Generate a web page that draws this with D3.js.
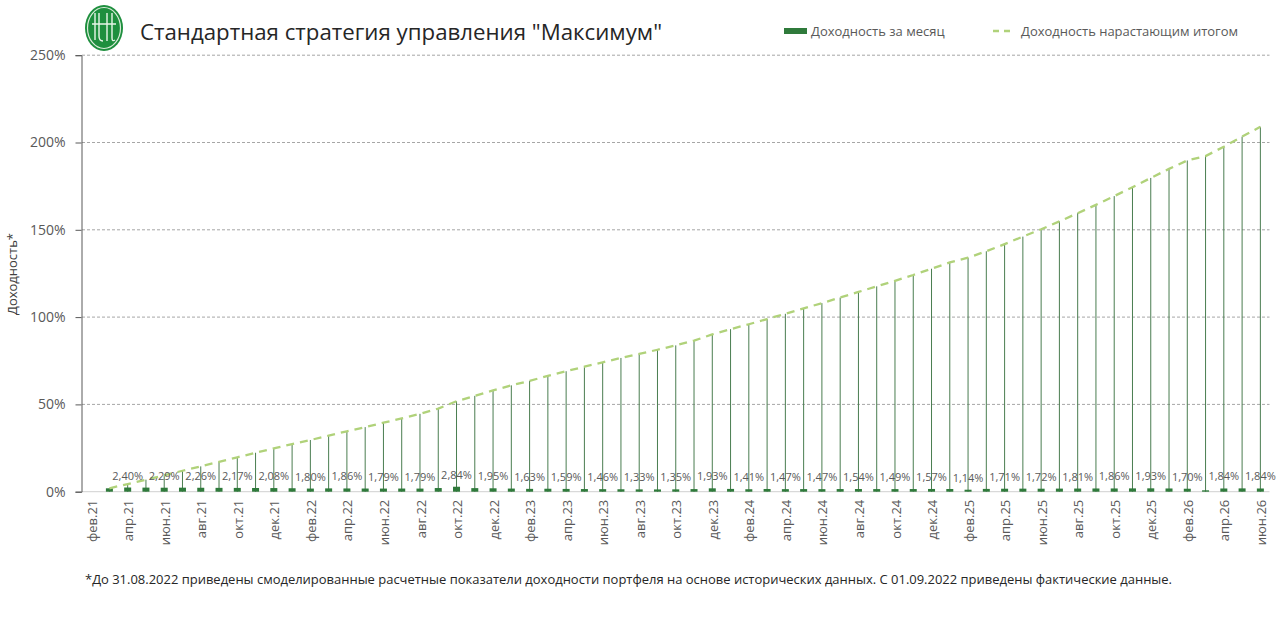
<!DOCTYPE html>
<html>
<head>
<meta charset="utf-8">
<script src="https://cdn.jsdelivr.net/npm/d3@7"></script>
<style>
  body { margin: 0; background: #fff; }
  svg { font-family: "Open Sans", "Noto Sans", sans-serif; }
</style>
</head>
<body>
<div id="chart"></div>
<script>
// months on the category axis
var months = [
  "фев.21","мар.21","апр.21","май.21","июн.21","июл.21","авг.21","сен.21","окт.21","ноя.21","дек.21",
  "янв.22","фев.22","мар.22","апр.22","май.22","июн.22","июл.22","авг.22","сен.22","окт.22","ноя.22","дек.22",
  "янв.23","фев.23","мар.23","апр.23","май.23","июн.23","июл.23","авг.23","сен.23","окт.23","ноя.23","дек.23",
  "янв.24","фев.24","мар.24","апр.24","май.24","июн.24","июл.24","авг.24","сен.24","окт.24","ноя.24","дек.24",
  "янв.25","фев.25","мар.25","апр.25","май.25","июн.25","июл.25","авг.25","сен.25","окт.25","ноя.25","дек.25",
  "янв.26","фев.26","мар.26","апр.26","май.26","июн.26"
];

// monthly return, %
var monthly = [
  null, 1.95, 2.40, 2.35, 2.29, 2.31, 2.26, 2.20, 2.17, 2.12, 2.08,
  1.98, 1.80, 1.90, 1.86, 1.82, 1.79, 1.81, 1.79, 2.10, 2.84, 2.05, 1.95,
  1.80, 1.63, 1.70, 1.59, 1.52, 1.46, 1.40, 1.33, 1.30, 1.35, 1.50, 1.93,
  1.60, 1.41, 1.55, 1.47, 1.50, 1.47, 1.52, 1.54, 1.50, 1.49, 1.52, 1.57,
  1.55, 1.14, 1.60, 1.71, 1.75, 1.72, 1.78, 1.81, 1.85, 1.86, 1.90, 1.93,
  1.85, 1.70, 0.80, 1.84, 1.90, 1.84
];

// cumulative return, %
var cumulative = [
  null, 1.95, 4.4, 6.9, 9.4, 12.0, 14.5, 17.1, 19.7, 22.3, 24.8,
  27.3, 29.6, 32.1, 34.6, 37.0, 39.5, 42.0, 44.6, 47.6, 51.8, 54.9, 58.0,
  60.9, 63.5, 66.3, 69.0, 71.6, 74.1, 76.6, 78.9, 81.3, 83.8, 86.5, 90.1,
  93.1, 95.9, 98.9, 101.9, 105.0, 108.0, 111.2, 114.4, 117.6, 120.8, 124.1, 127.7,
  131.3, 134.0, 137.7, 141.8, 146.1, 150.3, 154.8, 159.5, 164.3, 169.3, 174.4, 179.7,
  184.9, 189.7, 192.2, 197.6, 203.4, 209.0
];

var yTicks = [0, 50, 100, 150, 200, 250];

var width = 1280,
    height = 632;

var plotL = 82, plotR = 1269.5, plotT = 55.2, plotB = 491.7;

var svg = d3.select("#chart").append("svg")
    .attr("width", width)
    .attr("height", height);

var x = d3.scaleBand()
    .domain(months)
    .range([plotL, plotR])
    .padding(0);

var y = d3.scaleLinear()
    .domain([0, 250])
    .range([plotB, plotT]);

function cx(m) { return x(m) + x.bandwidth() / 2; }
function pct(v) { return v.toFixed(2).replace(".", ",") + "%"; }

// grid
svg.append("g").selectAll("line")
  .data(yTicks.filter(function(d) { return d > 0; }))
  .join("line")
    .attr("x1", plotL).attr("x2", plotR)
    .attr("y1", function(d) { return y(d); })
    .attr("y2", function(d) { return y(d); })
    .attr("stroke", "#a6a6a6")
    .attr("stroke-width", 1)
    .attr("stroke-dasharray", "3,2");

// x axis line
svg.append("line")
  .attr("x1", plotL).attr("x2", plotR)
  .attr("y1", y(0)).attr("y2", y(0))
  .attr("stroke", "#d0d0d0");

// y axis
var yAxis = svg.append("g")
  .attr("transform", "translate(" + (plotL - 0.5) + ",0)")
  .call(d3.axisLeft(y).tickValues(yTicks).tickSize(6).tickPadding(10)
    .tickFormat(function(d) { return d + "%"; }));
yAxis.select(".domain").attr("stroke", "#595959");
yAxis.selectAll(".tick line").attr("stroke", "#595959");
yAxis.selectAll("text")
  .attr("fill", "#595959")
  .style("font-size", "14px")
  .style("font-family", "'Open Sans', sans-serif");

svg.append("text")
  .attr("transform", "translate(17,274) rotate(-90)")
  .attr("text-anchor", "middle")
  .attr("fill", "#404040")
  .style("font-size", "13px")
  .text("Доходность*");

// x labels every other month
var xLab = months.filter(function(d, i) { return i % 2 === 0; });
svg.append("g").selectAll("text")
  .data(xLab)
  .join("text")
    .attr("transform", function(d) { return "translate(" + (cx(d) + 1) + "," + (y(0) + 8) + ") rotate(-90)"; })
    .attr("text-anchor", "end")
    .attr("dy", "0.35em")
    .attr("fill", "#595959")
    .style("font-size", "13px")
    .text(function(d) { return d; });

var cumData = months.map(function(m, i) { return {m: m, v: cumulative[i], r: monthly[i], i: i}; });

// drop lines from cumulative line
svg.append("g").selectAll("line")
  .data(cumData.filter(function(d) { return d.v != null; }))
  .join("line")
    .attr("x1", function(d) { return cx(d.m); })
    .attr("x2", function(d) { return cx(d.m); })
    .attr("y1", function(d) { return y(d.v); })
    .attr("y2", y(0))
    .attr("stroke", "#4a7d50")
    .attr("stroke-width", 1);

// monthly bars
var bw = 7;
svg.append("g").selectAll("rect")
  .data(cumData.filter(function(d) { return d.r != null; }))
  .join("rect")
    .attr("x", function(d) { return cx(d.m) - bw / 2; })
    .attr("y", function(d) { return y(d.r); })
    .attr("width", bw)
    .attr("height", function(d) { return y(0) - y(d.r); })
    .attr("fill", "#2f7a3b");

// cumulative dashed line
var line = d3.line()
    .defined(function(d) { return d.v != null; })
    .x(function(d) { return cx(d.m); })
    .y(function(d) { return y(d.v); });

svg.append("path")
  .attr("d", line(cumData))
  .attr("fill", "none")
  .attr("stroke", "#b0d27a")
  .attr("stroke-width", 2.3)
  .attr("stroke-dasharray", "8,6");

// value labels
svg.append("g").selectAll("text")
  .data(cumData.filter(function(d) { return d.r != null && d.i % 2 === 0; }))
  .join("text")
    .attr("x", function(d) { return cx(d.m); })
    .attr("y", function(d) { return y(d.r) - 8; })
    .attr("text-anchor", "middle")
    .attr("fill", "#595959")
    .style("font-size", "11px")
    .text(function(d) { return pct(d.r); });

// logo
var logo = svg.append("g").attr("transform", "translate(104,28)");
logo.append("ellipse").attr("rx", 19).attr("ry", 23).attr("fill", "#1e8f3e");
logo.append("ellipse").attr("rx", 16.5).attr("ry", 20.5).attr("fill", "none")
  .attr("stroke", "#d8ecd8").attr("stroke-width", 1.2);
logo.append("path")
  .attr("d", "M-9,-15 V12 M-5,-15 V8 Q-5,13 -1,13 M3,-15 V13 M8,-15 V10 Q8,14 11,12 M-12,-4 H12")
  .attr("fill", "none").attr("stroke", "#e8f5e8").attr("stroke-width", 1.4);

// title
svg.append("text")
  .attr("x", 140).attr("y", 40)
  .attr("fill", "#262626")
  .attr("textLength", 522)
  .attr("lengthAdjust", "spacingAndGlyphs")
  .style("font-size", "22px")
  .text("Стандартная стратегия управления \"Максимум\"");

// legend
svg.append("rect").attr("x", 784).attr("y", 28).attr("width", 23).attr("height", 6).attr("fill", "#2f7a3b");
svg.append("text").attr("x", 811).attr("y", 36).attr("fill", "#595959")
  .style("font-size", "13px").text("Доходность за месяц");
svg.append("line").attr("x1", 993).attr("x2", 1012).attr("y1", 31).attr("y2", 31)
  .attr("stroke", "#b0d27a").attr("stroke-width", 2.3).attr("stroke-dasharray", "6,5");
svg.append("text").attr("x", 1021).attr("y", 36).attr("fill", "#595959")
  .attr("textLength", 217).attr("lengthAdjust", "spacingAndGlyphs")
  .style("font-size", "13px").text("Доходность нарастающим итогом");

// footnote
svg.append("text").attr("x", 85).attr("y", 584).attr("fill", "#262626")
  .attr("textLength", 1087).attr("lengthAdjust", "spacingAndGlyphs")
  .style("font-size", "13px")
  .text("*До 31.08.2022 приведены смоделированные расчетные показатели доходности портфеля на основе исторических данных. С 01.09.2022 приведены фактические данные.");
</script>
</body>
</html>
